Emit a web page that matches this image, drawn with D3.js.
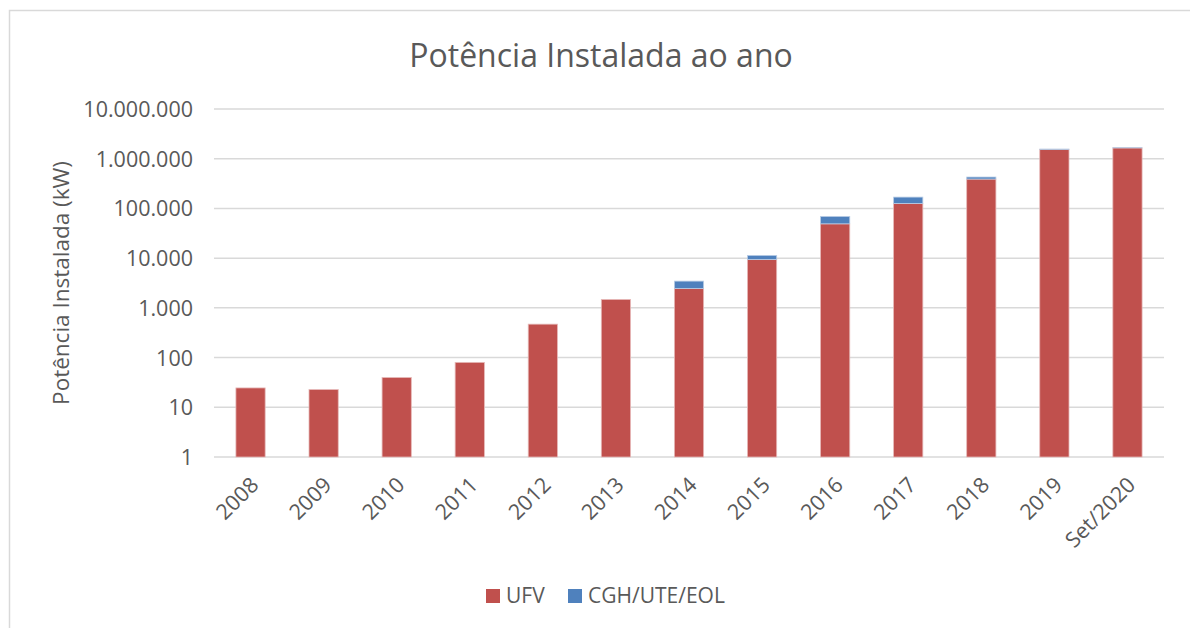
<!DOCTYPE html>
<html><head><meta charset="utf-8">
<script src="https://cdn.jsdelivr.net/npm/d3@7"></script>
<style>body{margin:0;background:#fff;} text{font-family:"Open Sans",sans-serif;fill:#595959;}</style>
</head><body>
<svg id="c" width="1190" height="628"></svg>
<script>
const categories = ["2008","2009","2010","2011","2012","2013","2014","2015","2016","2017","2018","2019","Set/2020"];
const ufv = [24.5, 22.7, 39.7, 80, 470, 1475, 2450, 9400, 49000, 126000, 390000, 1540000, 1650000];
const outros = [0, 0, 0, 0, 0, 0, 1000, 1950, 20000, 43000, 38000, 25000, 15000];
const yTicks = [1, 10, 100, 1000, 10000, 100000, 1000000, 10000000];
const seriesNames = ["UFV", "CGH/UTE/EOL"];
const colors = ["#C0504D", "#4F81BD"];

const svg = d3.select("#c");
svg.append("path").attr("d","M9.5,628 V10.5 H1190").attr("fill","none").attr("stroke","#d9d9d9").attr("stroke-width",1.5);

const x = d3.scaleBand().domain(categories).range([214, 1164]).paddingInner(0.6).paddingOuter(0.3);
const y = d3.scaleLog().domain([1, 1e7]).range([457, 109]);

const fmt = v => d3.format(",")(v).replace(/,/g, ".");

svg.append("g").selectAll("line").data(yTicks).join("line")
  .attr("x1", 214).attr("x2", 1164)
  .attr("y1", d => y(d)).attr("y2", d => y(d))
  .attr("stroke", "#d9d9d9").attr("stroke-width", 1.5);

const yAxis = d3.axisLeft(y).tickValues(yTicks).tickFormat(fmt).tickSize(0).tickPadding(20);
const gy = svg.append("g").attr("transform","translate(213,0)").call(yAxis);
gy.select(".domain").remove();
gy.selectAll("text").style("font-size","21.5px").attr("fill","#595959").attr("dy","0.35em");

const g = svg.append("g");
categories.forEach((c, i) => {
  const total = ufv[i] + outros[i];
  g.append("rect").attr("x", x(c)).attr("width", x.bandwidth())
    .attr("y", y(ufv[i])).attr("height", y(1) - y(ufv[i]))
    .attr("fill", colors[0]).attr("stroke","#e6b9b8").attr("stroke-width",0.8);
  if (outros[i] > 0) {
    g.append("rect").attr("x", x(c)).attr("width", x.bandwidth())
      .attr("y", y(total)).attr("height", y(ufv[i]) - y(total))
      .attr("fill", colors[1]).attr("stroke","#b9cde5").attr("stroke-width",0.8);
  }
});

const xAxis = d3.axisBottom(x).tickSize(0).tickPadding(0);
const gx = svg.append("g").attr("transform","translate(0,457)").call(xAxis);
gx.select(".domain").remove();
gx.selectAll("text").style("font-size","21.5px").attr("fill","#595959")
  .attr("text-anchor","end").attr("dy","0.35em").attr("y",0)
  .attr("transform","translate(4,24) rotate(-45)");

svg.append("text").attr("x", 601).attr("y", 67).attr("text-anchor","middle")
  .style("font-size","32px").text("Potência Instalada ao ano");

svg.append("text").attr("transform","translate(69,283) rotate(-90)").attr("text-anchor","middle")
  .style("font-size","22.5px").text("Potência Instalada (kW)");

const leg = svg.append("g");
const legX = [486, 568];
seriesNames.forEach((n, i) => {
  leg.append("rect").attr("x", legX[i]).attr("y", 589).attr("width", 14).attr("height", 14).attr("fill", colors[i]);
  leg.append("text").attr("x", legX[i] + 20).attr("y", 596).attr("dy","0.35em").style("font-size","21px").text(n);
});
</script>
</body></html>
